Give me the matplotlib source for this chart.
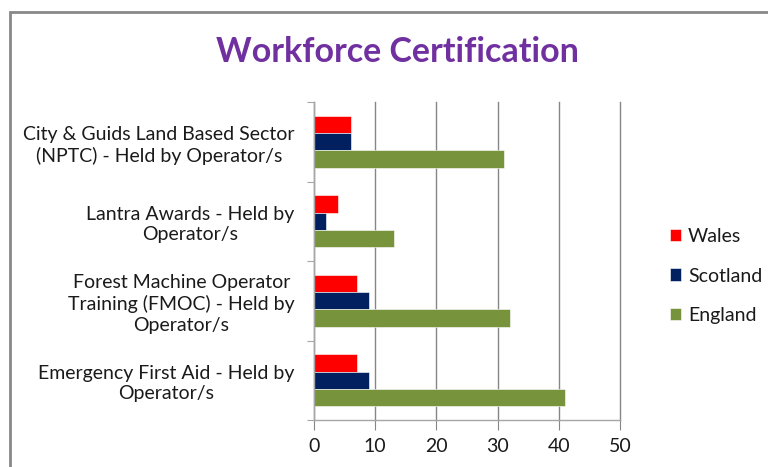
import matplotlib.pyplot as plt
from matplotlib.patches import Rectangle
import numpy as np

plt.rcParams['font.family'] = ['Lato', 'DejaVu Sans']

# data
categories = ['City & Guids Land Based Sector\n(NPTC) - Held by Operator/s',
              'Lantra Awards - Held by\nOperator/s',
              'Forest Machine Operator\nTraining (FMOC) - Held by\nOperator/s',
              'Emergency First Aid - Held by\nOperator/s']
wales = [6, 4, 7, 7]
scotland = [6, 2, 9, 9]
england = [31, 13, 32, 41]

series = ['Wales', 'Scotland', 'England']
colors = ['#FF0000', '#002060', '#77933C']

W, H = 768, 467
fig = plt.figure(figsize=(W / 100, H / 100), dpi=100)
ax = fig.add_axes([314 / W, 1 - 420 / H, (620 - 314) / W, (420 - 102) / H])

y = np.arange(len(categories))
h = 0.22
for vals, off, c, name in zip([wales, scotland, england], [-h, 0, h], colors, series):
    ax.barh(y + off, vals, height=h, color=c, label=name, edgecolor='white', linewidth=0.4)

ax.set_xlim(0, 50)
ax.set_ylim(len(categories) - 0.5, -0.5)
ax.set_xticks(range(0, 51, 10))
ax.xaxis.grid(True, color='#868686', linewidth=1)
ax.set_axisbelow(True)
for gl in ax.get_xgridlines():
    gl.set_clip_on(False)

# category boundaries as major ticks, labels on minor ticks
ax.set_yticks(np.arange(-0.5, len(categories), 1))
ax.set_yticklabels([])
ax.set_yticks(y, minor=True)
ax.set_yticklabels(categories, minor=True, multialignment='center', fontsize=14,
                   color='#1a1a1a', linespacing=1.25)
ax.tick_params(axis='y', which='minor', length=0, pad=14)
ax.tick_params(axis='y', which='major', length=5, color='#A6A6A6')
ax.tick_params(axis='x', length=7, color='#868686', labelsize=14, labelcolor='#1a1a1a', pad=6)

for s in ['top', 'right']:
    ax.spines[s].set_visible(False)
for s in ['left', 'bottom']:
    ax.spines[s].set_color('#A6A6A6')
    ax.spines[s].set_linewidth(1)

fig.text(397 / W, 1 - 52 / H, 'Workforce Certification', ha='center', va='center',
         fontsize=24.5, fontweight='bold', color='#7030A0')

leg = ax.legend(loc='center left', bbox_to_anchor=(652 / W, 1 - 276 / H), bbox_transform=fig.transFigure,
                frameon=False, fontsize=14, handlelength=0.6, handleheight=0.6,
                handletextpad=0.35, labelspacing=1.15)
for t in leg.get_texts():
    t.set_color('#1a1a1a')

fig.patches.append(Rectangle((10 / W, -0.1), 1.1, 1 - 12 / H + 0.1, transform=fig.transFigure,
                             fill=False, edgecolor='#888888', linewidth=2))

fig.savefig('out.png', dpi=100)
